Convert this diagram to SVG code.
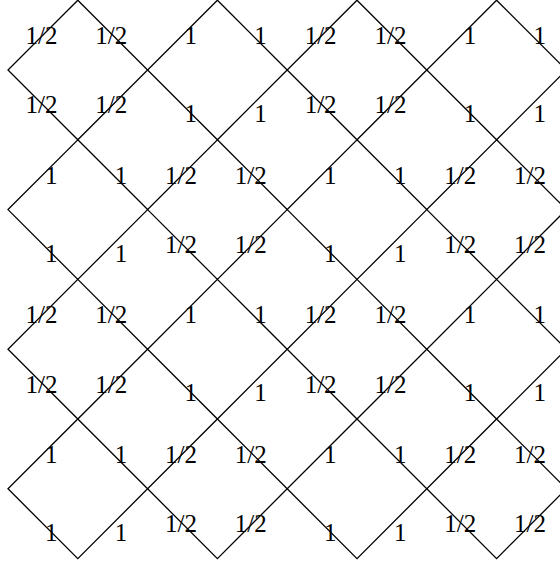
<svg xmlns="http://www.w3.org/2000/svg" width="560" height="564" viewBox="0 0 560 564">
<style>
.d{fill:none;stroke:#000;stroke-width:1.3}
.t{font-family:"Liberation Serif","Times New Roman",serif;font-size:25px;fill:#000;text-anchor:end}
</style>
<rect width="560" height="564" fill="#fff"/>
<g id="connectors"></g>
<g id="d00"><polygon class="d" points="77.8,0.2 147.6,70 77.8,139.8 8,70"/><text class="t" x="57.4" y="44.1">1/2</text><text class="t" x="127.2" y="44.1">1/2</text><text class="t" x="57.4" y="113.4">1/2</text><text class="t" x="127.2" y="113.4">1/2</text></g>
<g id="d10"><polygon class="d" points="217.4,0.2 287.2,70 217.4,139.8 147.6,70"/><text class="t" x="197" y="44.1">1</text><text class="t" x="266.8" y="44.1">1</text><text class="t" x="197" y="122.2">1</text><text class="t" x="266.8" y="122.2">1</text></g>
<g id="d20"><polygon class="d" points="357,0.2 426.8,70 357,139.8 287.2,70"/><text class="t" x="336.6" y="44.1">1/2</text><text class="t" x="406.4" y="44.1">1/2</text><text class="t" x="336.6" y="113.4">1/2</text><text class="t" x="406.4" y="113.4">1/2</text></g>
<g id="d30"><polygon class="d" points="496.6,0.2 566.4,70 496.6,139.8 426.8,70"/><text class="t" x="476.2" y="44.1">1</text><text class="t" x="546" y="44.1">1</text><text class="t" x="476.2" y="122.2">1</text><text class="t" x="546" y="122.2">1</text></g>
<g id="d01"><polygon class="d" points="77.8,139.8 147.6,209.6 77.8,279.4 8,209.6"/><text class="t" x="57.4" y="183.7">1</text><text class="t" x="127.2" y="183.7">1</text><text class="t" x="57.4" y="261.8">1</text><text class="t" x="127.2" y="261.8">1</text></g>
<g id="d11"><polygon class="d" points="217.4,139.8 287.2,209.6 217.4,279.4 147.6,209.6"/><text class="t" x="197" y="183.7">1/2</text><text class="t" x="266.8" y="183.7">1/2</text><text class="t" x="197" y="253">1/2</text><text class="t" x="266.8" y="253">1/2</text></g>
<g id="d21"><polygon class="d" points="357,139.8 426.8,209.6 357,279.4 287.2,209.6"/><text class="t" x="336.6" y="183.7">1</text><text class="t" x="406.4" y="183.7">1</text><text class="t" x="336.6" y="261.8">1</text><text class="t" x="406.4" y="261.8">1</text></g>
<g id="d31"><polygon class="d" points="496.6,139.8 566.4,209.6 496.6,279.4 426.8,209.6"/><text class="t" x="476.2" y="183.7">1/2</text><text class="t" x="546" y="183.7">1/2</text><text class="t" x="476.2" y="253">1/2</text><text class="t" x="546" y="253">1/2</text></g>
<g id="d02"><polygon class="d" points="77.8,279.4 147.6,349.2 77.8,419 8,349.2"/><text class="t" x="57.4" y="323.3">1/2</text><text class="t" x="127.2" y="323.3">1/2</text><text class="t" x="57.4" y="392.6">1/2</text><text class="t" x="127.2" y="392.6">1/2</text></g>
<g id="d12"><polygon class="d" points="217.4,279.4 287.2,349.2 217.4,419 147.6,349.2"/><text class="t" x="197" y="323.3">1</text><text class="t" x="266.8" y="323.3">1</text><text class="t" x="197" y="401.4">1</text><text class="t" x="266.8" y="401.4">1</text></g>
<g id="d22"><polygon class="d" points="357,279.4 426.8,349.2 357,419 287.2,349.2"/><text class="t" x="336.6" y="323.3">1/2</text><text class="t" x="406.4" y="323.3">1/2</text><text class="t" x="336.6" y="392.6">1/2</text><text class="t" x="406.4" y="392.6">1/2</text></g>
<g id="d32"><polygon class="d" points="496.6,279.4 566.4,349.2 496.6,419 426.8,349.2"/><text class="t" x="476.2" y="323.3">1</text><text class="t" x="546" y="323.3">1</text><text class="t" x="476.2" y="401.4">1</text><text class="t" x="546" y="401.4">1</text></g>
<g id="d03"><polygon class="d" points="77.8,419 147.6,488.8 77.8,558.6 8,488.8"/><text class="t" x="57.4" y="462.9">1</text><text class="t" x="127.2" y="462.9">1</text><text class="t" x="57.4" y="541">1</text><text class="t" x="127.2" y="541">1</text></g>
<g id="d13"><polygon class="d" points="217.4,419 287.2,488.8 217.4,558.6 147.6,488.8"/><text class="t" x="197" y="462.9">1/2</text><text class="t" x="266.8" y="462.9">1/2</text><text class="t" x="197" y="532.2">1/2</text><text class="t" x="266.8" y="532.2">1/2</text></g>
<g id="d23"><polygon class="d" points="357,419 426.8,488.8 357,558.6 287.2,488.8"/><text class="t" x="336.6" y="462.9">1</text><text class="t" x="406.4" y="462.9">1</text><text class="t" x="336.6" y="541">1</text><text class="t" x="406.4" y="541">1</text></g>
<g id="d33"><polygon class="d" points="496.6,419 566.4,488.8 496.6,558.6 426.8,488.8"/><text class="t" x="476.2" y="462.9">1/2</text><text class="t" x="546" y="462.9">1/2</text><text class="t" x="476.2" y="532.2">1/2</text><text class="t" x="546" y="532.2">1/2</text></g>
</svg>
